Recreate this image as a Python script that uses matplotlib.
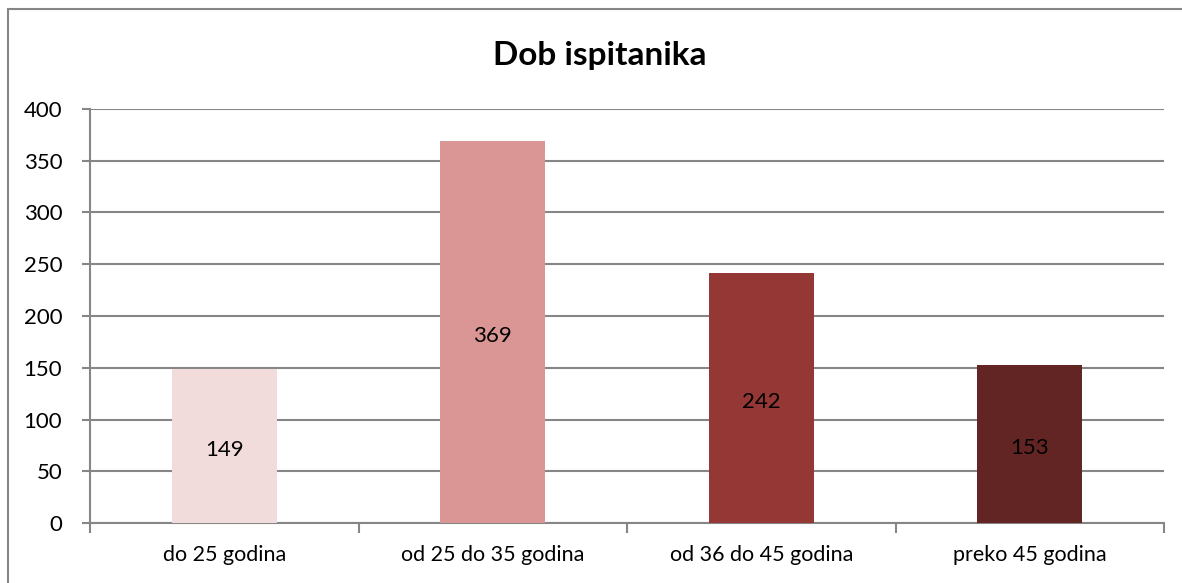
import matplotlib.pyplot as plt
from matplotlib.patches import Rectangle

categories = ["do 25 godina", "od 25 do 35 godina", "od 36 do 45 godina", "preko 45 godina"]
values = [149, 369, 242, 153]
colors = ["#F2DCDB", "#D99694", "#953735", "#632523"]
yticks = [0, 50, 100, 150, 200, 250, 300, 350, 400]

plt.rcParams['font.family'] = ['Lato', 'DejaVu Sans']

W, H = 1182, 583
fig = plt.figure(figsize=(W / 100, H / 100), dpi=100)
ax = fig.add_axes([90 / W, 1 - 523 / H, (1164 - 90) / W, (523 - 109) / H])

# chart-area border (only left and top edges visible in the crop)
fig.patches.append(Rectangle((8 / W, -0.1), 1.2, 1 - 9 / H + 0.1,
                             transform=fig.transFigure, fill=False,
                             edgecolor="#868686", linewidth=1.5))

x = list(range(len(categories)))
bars = ax.bar(x, values, width=0.39, color=colors, zorder=3)
for b, v in zip(bars, values):
    ax.annotate(str(v), (b.get_x() + b.get_width() / 2, v / 2),
                xytext=(0, -4), textcoords="offset pixels",
                ha="center", va="center", fontsize=16, color="black", zorder=4)

ax.set_xlim(-0.5, len(categories) - 0.5)
ax.set_ylim(0, 400)
ax.set_yticks(yticks)
ax.set_yticklabels([str(t) for t in yticks], fontsize=16)
ax.yaxis.grid(True, color="#868686", linewidth=1.5, zorder=0)
ax.set_xticks(x)
ax.set_xticklabels(categories, fontsize=15.5)
ax.set_xticks([i - 0.5 for i in range(len(categories) + 1)], minor=True)

ax.tick_params(axis="x", which="major", length=0, pad=16)
ax.tick_params(axis="x", which="minor", length=7, width=1.5, color="#868686")
ax.tick_params(axis="y", length=6, width=1.5, color="#868686", pad=14)

for s in ["top", "right"]:
    ax.spines[s].set_visible(False)
for s in ["left", "bottom"]:
    ax.spines[s].set_color("#868686")
    ax.spines[s].set_linewidth(1.5)

fig.text(600 / W, 1 - 55 / H, "Dob ispitanika", ha="center", va="center",
         fontsize=24, fontweight="bold")

fig.savefig("out.png", dpi=100, facecolor="white")
